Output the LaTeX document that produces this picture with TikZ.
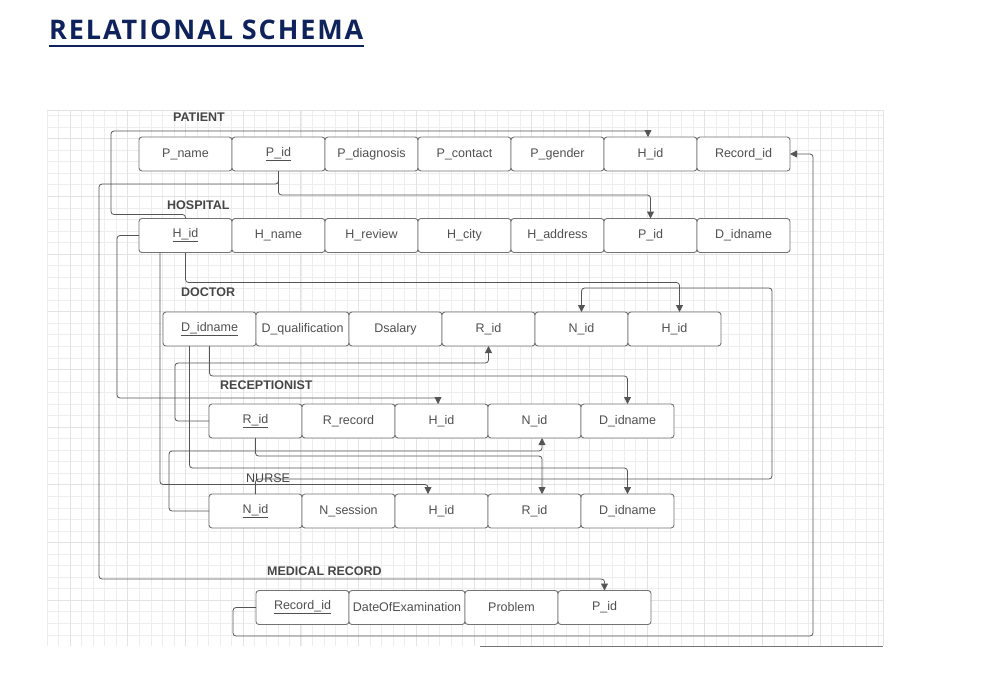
\documentclass[tikz,border=0pt]{standalone}
\usepackage{fontspec}
\setmainfont{Liberation Sans}
\newfontfamily\titlefont[LetterSpace=7]{Open Sans}
\usepackage{xcolor}
\usetikzlibrary{arrows.meta,positioning}
\definecolor{navy}{RGB}{14,34,92}
\definecolor{boxgray}{RGB}{115,115,115}
\definecolor{txtgray}{RGB}{80,80,80}
\definecolor{lblgray}{RGB}{70,70,70}
\definecolor{linegray}{RGB}{85,85,85}

\begin{document}
\begin{tikzpicture}[
  x=1pt, y=-1pt,
  attr/.style={draw=boxgray, fill=white, line width=0.9pt, rounded corners=3pt, outer sep=0pt,
    minimum width=93pt, minimum height=34pt, inner xsep=2pt, text=txtgray,
    font=\fontsize{12.5}{15}\selectfont},
  tbl/.style={anchor=west, inner sep=0pt, text=lblgray, font=\bfseries\fontsize{12.5}{15}\selectfont},
  fk/.style={-{Triangle[length=7pt,width=7pt]}, draw=linegray, line width=0.8pt, rounded corners=3pt},
  gridminor/.style={draw=black!7, line width=0.6pt},
  gridmajor/.style={draw=black!11, line width=0.7pt}
]
\useasboundingbox (0,0) rectangle (987,678);
\fill[white] (0,0) rectangle (987,678);

% title
\node[anchor=base west, inner sep=0pt, text=navy, font=\titlefont\bfseries\fontsize{27}{30}\selectfont] (title) at (49,39.3) {RELATIONAL SCHEMA};
\draw[navy, line width=2.4pt] ([yshift=-6.5pt]title.base west) -- ([yshift=-6.5pt]title.base east);

% grid paper
\foreach \gx in {0,...,72}
  \draw[gridminor] ({47+\gx*11.54},110) -- ({47+\gx*11.54},646);
\foreach \gy in {0,...,45}
  \draw[gridminor] (47,{115.5+\gy*11.54}) -- (883,{115.5+\gy*11.54});
\foreach \gx in {0,...,13}
  \draw[gridmajor] ({70+\gx*57.7},110) -- ({70+\gx*57.7},646);
\foreach \gy in {0,...,8}
  \draw[gridmajor] (47,{138.6+\gy*57.7}) -- (883,{138.6+\gy*57.7});
\draw[gridmajor] (47,110) -- (883,110) -- (883,646);
\draw[boxgray] (480,646) -- (883,646);

% PATIENT
\node[tbl] (tpat) at (173,117) {PATIENT};
\node[attr] (pname) at (185.5,154) {P\_name};
\node[attr, right=0pt of pname] (pid) {\underline{P\_id}};
\node[attr, right=0pt of pid] (pdiag) {P\_diagnosis};
\node[attr, right=0pt of pdiag] (pcont) {P\_contact};
\node[attr, right=0pt of pcont] (pgen) {P\_gender};
\node[attr, right=0pt of pgen] (phid) {H\_id};
\node[attr, right=0pt of phid] (prec) {Record\_id};

% HOSPITAL
\node[tbl] (thos) at (167,205) {HOSPITAL};
\node[attr] (hhid) at (185.5,235.5) {\underline{H\_id}};
\node[attr, right=0pt of hhid] (hname) {H\_name};
\node[attr, right=0pt of hname] (hrev) {H\_review};
\node[attr, right=0pt of hrev] (hcity) {H\_city};
\node[attr, right=0pt of hcity] (haddr) {H\_address};
\node[attr, right=0pt of haddr] (hpid) {P\_id};
\node[attr, right=0pt of hpid] (hdid) {D\_idname};

% DOCTOR
\node[tbl] (tdoc) at (181,292) {DOCTOR};
\node[attr] (ddid) at (209.5,329) {\underline{D\_idname}};
\node[attr, right=0pt of ddid] (dqual) {D\_qualification};
\node[attr, right=0pt of dqual] (dsal) {Dsalary};
\node[attr, right=0pt of dsal] (drid) {R\_id};
\node[attr, right=0pt of drid] (dnid) {N\_id};
\node[attr, right=0pt of dnid] (dhid) {H\_id};

% RECEPTIONIST
\node[tbl] (trec) at (220,385) {RECEPTIONIST};
\node[attr] (rrid) at (255.5,421) {\underline{R\_id}};
\node[attr, right=0pt of rrid] (rrec) {R\_record};
\node[attr, right=0pt of rrec] (rhid) {H\_id};
\node[attr, right=0pt of rhid] (rnid) {N\_id};
\node[attr, right=0pt of rnid] (rdid) {D\_idname};

% NURSE
\node[tbl, font=\fontsize{12.5}{15}\selectfont] (tnur) at (246,478) {NURSE};
\node[attr] (nnid) at (255.5,511) {\underline{N\_id}};
\node[attr, right=0pt of nnid] (nses) {N\_session};
\node[attr, right=0pt of nses] (nhid) {H\_id};
\node[attr, right=0pt of nhid] (nrid) {R\_id};
\node[attr, right=0pt of nrid] (ndid) {D\_idname};

% MEDICAL RECORD
\node[tbl] (tmed) at (267,571) {MEDICAL RECORD};
\node[attr] (mrec) at (302.5,607.5) {\underline{Record\_id}};
\node[attr, minimum width=116pt, right=0pt of mrec] (mdate) {DateOfExamination};
\node[attr, right=0pt of mdate] (mprob) {Problem};
\node[attr, right=0pt of mprob] (mpid) {P\_id};

% foreign keys
\draw[fk] (hhid.north) -- ++(0,-4) -| (111,131) -| ([xshift=-2.5pt]phid.north);
\draw[fk] (pid.south) -- ++(0,24) -| (hpid.north);
\draw[fk] (pid.south) -- ++(0,13) -| (99,579) -| (mpid.north);
\draw[fk] (mrec.west) -| (233,636) -- (813,636) |- (prec.east);
\draw[fk] (hhid.west) -| (117,398) -| ([xshift=-3.5pt]rhid.north);
\draw[fk] (hhid.south) -- ++(0,30) -| ([xshift=5pt]dhid.north);
\draw[fk] ([xshift=-25.5pt]hhid.south) -- ++(0,232) -| ([xshift=-13.5pt]nhid.north);
\draw[fk] (rrid.west) -| (175,363) -| (drid.south);
\draw[fk] (ddid.south) -- ++(0,30) -| (rdid.north);
\draw[fk] ([xshift=-20pt]ddid.south) -- ++(0,122) -| (ndid.north);
\draw[fk] (rrid.south) -- ++(0,18) -| ([xshift=7.5pt]nrid.north);
\draw[fk] (nnid.west) -| (169,451) -| ([xshift=7.5pt]rnid.south);
\draw[fk] (nnid.north) |- (772,479) -- (772,288) -| (dnid.north);
\end{tikzpicture}
\end{document}
